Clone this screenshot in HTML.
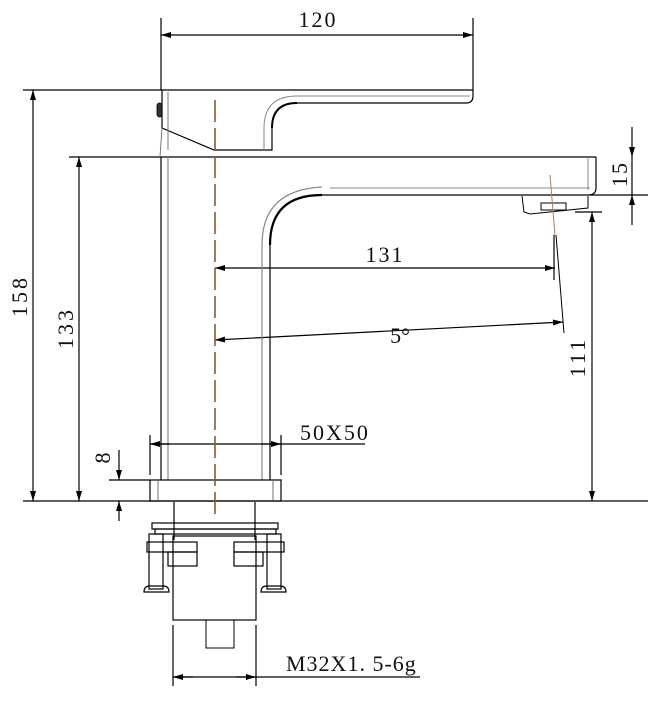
<!DOCTYPE html>
<html><head><meta charset="utf-8"><style>
html,body{margin:0;padding:0;background:#fff}
svg{display:block}
text{font-family:"Liberation Serif",serif;font-size:22px;fill:#111}
</style></head><body>
<svg width="648" height="706" viewBox="0 0 648 706" xmlns="http://www.w3.org/2000/svg">
<defs>
<marker id="a" viewBox="0 0 10 6" refX="10" refY="3" markerWidth="14" markerHeight="6" markerUnits="userSpaceOnUse" orient="auto-start-reverse"><path d="M0,0L10,3L0,6z" fill="#000"/></marker>
</defs>
<g stroke="#000" stroke-width="1.2" fill="none">
<line x1="161" y1="18" x2="161" y2="90"/><line x1="473" y1="18" x2="473" y2="90"/>
<line x1="161" y1="35" x2="473" y2="35" marker-start="url(#a)" marker-end="url(#a)"/>
<line x1="23" y1="90" x2="473" y2="90"/>
<line x1="69" y1="157" x2="596" y2="157"/>
<line x1="590" y1="195" x2="648" y2="195"/>
<line x1="575" y1="212" x2="602" y2="212"/>
<line x1="23" y1="501" x2="648" y2="501"/>
<line x1="109" y1="480" x2="150" y2="480"/>
<line x1="33" y1="90" x2="33" y2="501" marker-start="url(#a)" marker-end="url(#a)"/>
<line x1="79" y1="157" x2="79" y2="501" marker-start="url(#a)" marker-end="url(#a)"/>
<line x1="119" y1="450" x2="119" y2="480" marker-end="url(#a)"/>
<line x1="119" y1="521" x2="119" y2="501" marker-end="url(#a)"/>
<line x1="632" y1="127" x2="632" y2="157" marker-end="url(#a)"/>
<line x1="632" y1="225" x2="632" y2="195" marker-end="url(#a)"/>
<line x1="632" y1="157" x2="632" y2="195"/>
<line x1="592" y1="212" x2="592" y2="501" marker-start="url(#a)" marker-end="url(#a)"/>
<line x1="215" y1="268" x2="555" y2="268" marker-start="url(#a)" marker-end="url(#a)"/>
<line x1="554" y1="235" x2="554" y2="280"/>
<line x1="556" y1="235" x2="564" y2="333" stroke-width="1"/>
<line x1="215" y1="340" x2="563" y2="322" marker-start="url(#a)" marker-end="url(#a)"/>
<path d="M162,90 L162,128 L214,150 L272,150 L272,128 Q272,103 297,103 L466,103 Q473,103 473,96 L473,90"/>
<path d="M168,92 L168,150 M162,128 L160,157" stroke="#777" stroke-width="1"/>
<path d="M264,150 L264,128 Q264,96 297,96 L470,96" stroke="#888" stroke-width="1"/>
<path d="M272,128 Q272,103 297,103" stroke="#000" stroke-width="2"/>
<rect x="157" y="103" width="5" height="14" rx="2.5" fill="#333" stroke-width="0.8"/>
<path d="M596,157 L596,188 Q596,195 588,195 L322,195 Q270,195 270,245 L270,480"/>
<path d="M322,187 Q262,190 262,245 L262,480" stroke="#888"/>
<path d="M322,195 Q270,195 270,245" stroke-width="2.2"/>
<line x1="588" y1="157" x2="588" y2="190" stroke="#888" stroke-width="1"/>
<line x1="330" y1="188" x2="590" y2="188" stroke="#888" stroke-width="1"/>
<path d="M522,196 L524,212 L530,214 L588,208 L588,196" stroke-width="1"/>
<rect x="541" y="203" width="25" height="7" stroke-width="1"/>
<line x1="161" y1="157" x2="161" y2="480"/>
<line x1="168" y1="157" x2="168" y2="480" stroke="#888"/>
<rect x="150" y="480" width="131" height="21"/>
<line x1="158" y1="481" x2="158" y2="500" stroke="#888"/><line x1="273" y1="481" x2="273" y2="500" stroke="#888"/>
<line x1="150" y1="435" x2="150" y2="475"/><line x1="281" y1="435" x2="281" y2="475"/>
<line x1="150" y1="444" x2="365" y2="444"/>
<line x1="170" y1="444" x2="150" y2="444" marker-end="url(#a)"/>
<line x1="261" y1="444" x2="281" y2="444" marker-end="url(#a)"/>
<line x1="174" y1="502" x2="174" y2="540"/><line x1="255" y1="502" x2="255" y2="540"/>
<rect x="152" y="523" width="126" height="6"/>
<rect x="155" y="529" width="121" height="5"/>
<rect x="147" y="542" width="50" height="10"/><rect x="234" y="542" width="50" height="10"/>
<rect x="168" y="552" width="29" height="14"/><rect x="234" y="552" width="29" height="14"/>
<rect x="149" y="534" width="14" height="55"/><rect x="267" y="534" width="14" height="55"/>
<path d="M144,592 Q144,586 150,586 L163,586 Q169,586 169,592 Z"/>
<path d="M261,592 Q261,586 267,586 L280,586 Q286,586 286,592 Z"/>
<rect x="173" y="536" width="83" height="84"/>
<rect x="206" y="620" width="28" height="28" stroke-width="1"/>
<line x1="173" y1="625" x2="173" y2="686"/><line x1="256" y1="625" x2="256" y2="686"/>
<line x1="173" y1="677" x2="420" y2="677"/>
<line x1="193" y1="677" x2="173" y2="677" marker-end="url(#a)"/>
<line x1="236" y1="677" x2="256" y2="677" marker-end="url(#a)"/>
</g>
<line x1="215" y1="100" x2="215" y2="518" stroke="#8a5a2b" stroke-width="1.6" stroke-dasharray="22,6"/>
<line x1="550" y1="175" x2="555" y2="235" stroke="#b08050" stroke-width="1"/>
<text x="318" y="27" text-anchor="middle" letter-spacing="2">120</text>
<text x="385" y="262" text-anchor="middle" letter-spacing="2">131</text>
<text x="400" y="343" text-anchor="middle">5°</text>
<text x="300" y="440" letter-spacing="2">50X50</text>
<text x="286" y="671" letter-spacing="1">M32X1. 5-6g</text>
<text transform="translate(27,296) rotate(-90)" text-anchor="middle" letter-spacing="3">158</text>
<text transform="translate(73,328) rotate(-90)" text-anchor="middle" letter-spacing="3">133</text>
<text transform="translate(110,458) rotate(-90)" text-anchor="middle">8</text>
<text transform="translate(627,174) rotate(-90)" text-anchor="middle" letter-spacing="2">15</text>
<text transform="translate(585,357) rotate(-90)" text-anchor="middle" letter-spacing="3">111</text>
</svg>
</body></html>
